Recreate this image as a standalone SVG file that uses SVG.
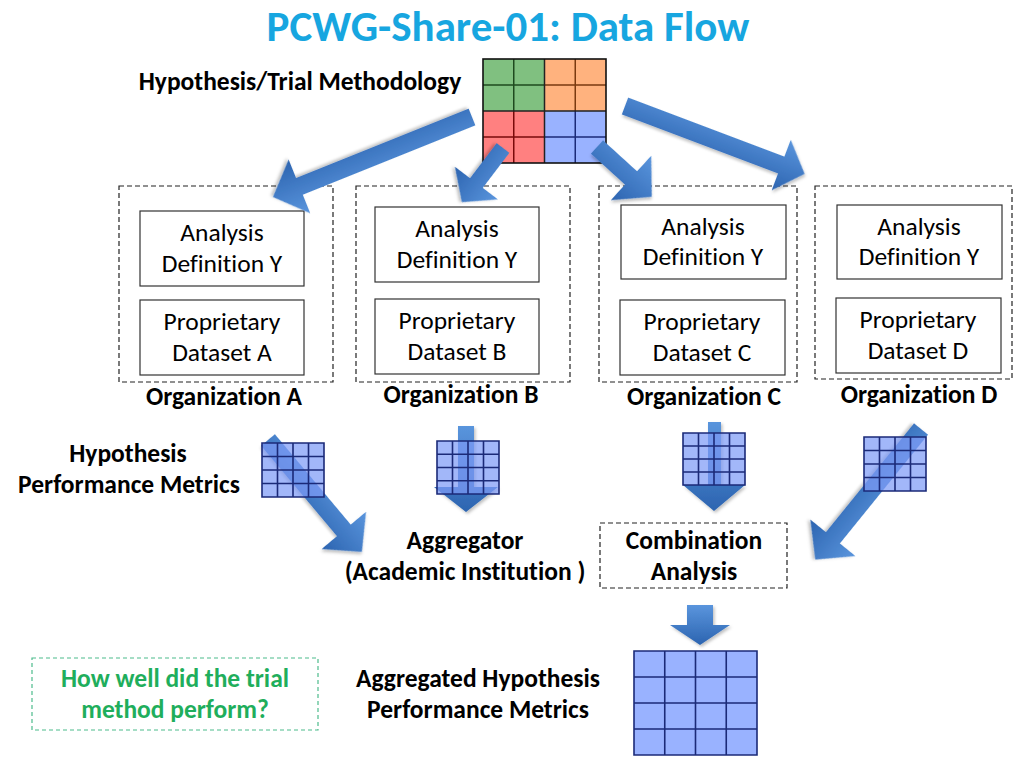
<svg xmlns="http://www.w3.org/2000/svg" width="1024" height="768" viewBox="0 0 1024 768">
<style>
text{font-family:Carlito,Lato,"Liberation Sans",sans-serif;fill:#000;font-variant-ligatures:none;font-feature-settings:"liga" 0}
.t{font-size:43px;font-weight:bold;fill:#17A6E0}
.b{font-size:25.5px;font-weight:bold}
.r{font-size:25.5px}
.g{font-size:25.5px;font-weight:bold;fill:#1FAE5C}
.org{fill:none;stroke:#222;stroke-width:1.2;stroke-dasharray:5 3}
.box{fill:#fff;stroke:#333;stroke-width:1.2}
.arr{fill:url(#ag);filter:url(#sh)}
.cell{fill:#7E9BF6;fill-opacity:0.72;stroke:none}
.gl{stroke:#1B2A78;stroke-width:1.6;fill:none}
</style>
<defs>
<linearGradient id="ag" x1="0" y1="0" x2="0" y2="1">
<stop offset="0" stop-color="#5A95DD"/>
<stop offset="1" stop-color="#2C64B0"/>
</linearGradient>
<filter id="sh" x="-20%" y="-20%" width="140%" height="140%">
<feDropShadow dx="1.5" dy="2" stdDeviation="1.5" flood-color="#000" flood-opacity="0.25"/>
</filter>
</defs>
<rect width="1024" height="768" fill="#fff"/>

<g id="title">
<text class="t" x="508" y="41" text-anchor="middle">PCWG-Share-01: Data Flow</text>
</g>

<g id="methodology">
<text class="b" x="300" y="90" text-anchor="middle">Hypothesis/Trial Methodology</text>
<rect x="483" y="59" width="61.5" height="52" fill="#80C080"/>
<rect x="544.5" y="59" width="61.5" height="52" fill="#FFB27E"/>
<rect x="483" y="111" width="61.5" height="52" fill="#FF8080"/>
<rect x="544.5" y="111" width="61.5" height="52" fill="#99B2FF"/>
<path d="M513.75,59V111M483,85H544.5" stroke="#1E4A1E" stroke-width="1.5"/>
<path d="M575.25,59V111M544.5,85H606" stroke="#7A3A10" stroke-width="1.5"/>
<path d="M513.75,111V163M483,137H544.5" stroke="#7A0A0A" stroke-width="1.5"/>
<path d="M575.25,111V163M544.5,137H606" stroke="#1B2A78" stroke-width="1.5"/>
<path d="M544.5,59V163M483,111H606" stroke="#222" stroke-width="1.5"/>
<rect x="483" y="59" width="123" height="104" fill="none" stroke="#111" stroke-width="1.6"/>
</g>

<g id="orgA">
<rect class="org" x="119" y="186" width="214" height="196"/>
<rect class="box" x="140" y="211" width="164" height="75"/>
<text class="r" x="222" y="241" text-anchor="middle">Analysis</text>
<text class="r" x="222" y="272" text-anchor="middle">Definition Y</text>
<rect class="box" x="140" y="300" width="164" height="75"/>
<text class="r" x="222" y="330" text-anchor="middle">Proprietary</text>
<text class="r" x="222" y="361" text-anchor="middle">Dataset A</text>
<text class="b" x="224" y="405" text-anchor="middle">Organization A</text>
</g>

<g id="orgB">
<rect class="org" x="356" y="186" width="214" height="196"/>
<rect class="box" x="375" y="207" width="164" height="75"/>
<text class="r" x="457" y="237" text-anchor="middle">Analysis</text>
<text class="r" x="457" y="268" text-anchor="middle">Definition Y</text>
<rect class="box" x="375" y="299" width="164" height="75"/>
<text class="r" x="457" y="329" text-anchor="middle">Proprietary</text>
<text class="r" x="457" y="360" text-anchor="middle">Dataset B</text>
<text class="b" x="461" y="403" text-anchor="middle">Organization B</text>
</g>

<g id="orgC">
<rect class="org" x="599" y="186" width="198" height="196"/>
<rect class="box" x="621" y="205" width="165" height="74"/>
<text class="r" x="703" y="235" text-anchor="middle">Analysis</text>
<text class="r" x="703" y="265" text-anchor="middle">Definition Y</text>
<rect class="box" x="620" y="300" width="165" height="75"/>
<text class="r" x="702" y="330" text-anchor="middle">Proprietary</text>
<text class="r" x="702" y="361" text-anchor="middle">Dataset C</text>
<text class="b" x="704" y="405" text-anchor="middle">Organization C</text>
</g>

<g id="orgD">
<rect class="org" x="815" y="186" width="197" height="193"/>
<rect class="box" x="837" y="205" width="165" height="74"/>
<text class="r" x="919" y="235" text-anchor="middle">Analysis</text>
<text class="r" x="919" y="265" text-anchor="middle">Definition Y</text>
<rect class="box" x="836" y="298" width="165" height="75"/>
<text class="r" x="918" y="328" text-anchor="middle">Proprietary</text>
<text class="r" x="918" y="359" text-anchor="middle">Dataset D</text>
<text class="b" x="919" y="403" text-anchor="middle">Organization D</text>
</g>

<g id="connectors">
<path class="arr" transform="translate(472,117) rotate(158.1)" d="M0,-9H186V-29L214.5,0L186,29V9H0Z"/>
<path class="arr" transform="translate(503,148) rotate(127.2)" d="M0,-8H44V-27L68,0L44,27V8H0Z"/>
<path class="arr" transform="translate(597,147) rotate(42.3)" d="M0,-9H46V-30L74,0L46,30V9H0Z"/>
<path class="arr" transform="translate(625,106) rotate(20.7)" d="M0,-9H167V-27L192,0L167,27V9H0Z"/>
<path class="arr" transform="translate(268,440) rotate(50)" d="M0,-9H118V-29L146,0L118,29V9H0Z"/>
<path class="arr" d="M458,426H474V487H498L466,512L434,487H458Z"/>
<path class="arr" d="M708,422H721V485H745L714,511L683,485H708Z"/>
<path class="arr" transform="translate(921,429) rotate(129)" d="M0,-9H140V-29L168,0L140,29V9H0Z"/>
<path class="arr" d="M687,605H713V625H730L700,645L670,625H687Z"/>
</g>

<g id="metricsA">
<text class="b" x="128" y="462" text-anchor="middle">Hypothesis</text>
<text class="b" x="129" y="493" text-anchor="middle">Performance Metrics</text>
<rect class="cell" x="262" y="443" width="62" height="54"/>
<path class="gl" d="M262,443H324V497H262ZM277.5,443V497M293,443V497M308.5,443V497M262,456.5H324M262,470H324M262,483.5H324"/>
</g>

<g id="metricsB">
<rect class="cell" x="437" y="441" width="62" height="53"/>
<path class="gl" d="M437,441H499V494H437ZM452.5,441V494M468,441V494M483.5,441V494M437,454.25H499M437,467.5H499M437,480.75H499"/>
</g>

<g id="metricsC">
<rect class="cell" x="683" y="433" width="62" height="52"/>
<path class="gl" d="M683,433H745V485H683ZM698.5,433V485M714,433V485M729.5,433V485M683,446H745M683,459H745M683,472H745"/>
</g>

<g id="metricsD">
<rect class="cell" x="864" y="437" width="62" height="54"/>
<path class="gl" d="M864,437H926V491H864ZM879.5,437V491M895,437V491M910.5,437V491M864,450.5H926M864,464H926M864,477.5H926"/>
</g>

<g id="aggregator">
<text class="b" x="465" y="549" text-anchor="middle">Aggregator</text>
<text class="b" x="465" y="580" text-anchor="middle">(Academic Institution )</text>
</g>

<g id="combination">
<rect class="org" x="600" y="523" width="187" height="65"/>
<text class="b" x="694" y="549" text-anchor="middle">Combination</text>
<text class="b" x="694" y="580" text-anchor="middle">Analysis</text>
</g>

<g id="aggregatedMetrics">
<text class="b" x="478" y="687" text-anchor="middle">Aggregated Hypothesis</text>
<text class="b" x="478" y="718" text-anchor="middle">Performance Metrics</text>
<rect x="634" y="651" width="123" height="104" fill="#99B2FF"/>
<path class="gl" d="M634,651H757V755H634ZM664.75,651V755M695.5,651V755M726.25,651V755M634,677H757M634,703H757M634,729H757"/>
</g>

<g id="question">
<rect x="32" y="658" width="286" height="72" fill="none" stroke="#4DBB8C" stroke-width="1.2" stroke-dasharray="4 3"/>
<text class="g" x="175" y="687" text-anchor="middle">How well did the trial</text>
<text class="g" x="175" y="718" text-anchor="middle">method perform?</text>
</g>
</svg>
